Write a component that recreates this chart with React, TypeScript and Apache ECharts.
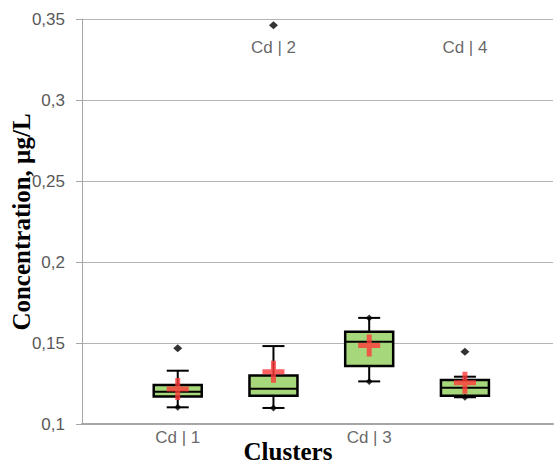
import React, { useEffect, useRef } from "react";
import * as echarts from "echarts";

const categories = ["Cd | 1", "Cd | 2", "Cd | 3", "Cd | 4"];
const positions = [1, 2, 3, 4];
const mins = [0.1103, 0.1099, 0.1263, 0.1165];
const q1s = [0.1169, 0.1175, 0.1358, 0.1175];
const medians = [0.1199, 0.1218, 0.1508, 0.1224];
const q3s = [0.1241, 0.13, 0.157, 0.1272];
const maxs = [0.1329, 0.1481, 0.1655, 0.1292];
const means = [0.1216, 0.1323, 0.1485, 0.1255];
const outliers: [number, number][] = [
  [1, 0.1467],
  [2, 0.3462],
  [4, 0.1446],
];
const whiskerEnds: [number, number][] = [
  [1, 0.1103],
  [2, 0.1099],
  [3, 0.1655],
  [3, 0.1263],
  [4, 0.1165],
];
const yTicks = { min: 0.1, max: 0.35, interval: 0.05 };
const yTitle = "Concentration, µg/L";
const xTitle = "Clusters";

export default function App() {
  const ref = useRef<HTMLDivElement>(null);
  useEffect(() => {
    if (!ref.current) return;
    const chart = echarts.init(ref.current, null, { renderer: "svg" });
    const boxData = positions.map((p, i) => [p, mins[i], q1s[i], medians[i], q3s[i], maxs[i]]);
    const labelData = positions.map((p, i) => [p, i % 2 === 0 ? 0.0914 : 0.3321, categories[i]]);
    const titleStyle = {
      fontFamily: "Liberation Serif",
      fontWeight: "bold",
      fontSize: 25,
      fill: "#000",
      align: "center",
      verticalAlign: "middle",
    };
    const option: any = {
      animation: false,
      grid: { left: 82, right: 2, top: 19, bottom: 39, containLabel: false, outerBoundsMode: "none" },
      xAxis: {
        type: "value",
        min: 0,
        max: 4.92,
        axisLine: { show: true, lineStyle: { color: "#a6a6a6", width: 2 } },
        axisTick: { show: false },
        axisLabel: { show: false },
        splitLine: { show: false },
      },
      yAxis: {
        type: "value",
        min: yTicks.min,
        max: yTicks.max,
        interval: yTicks.interval,
        axisLine: { show: true, lineStyle: { color: "#a6a6a6", width: 1 } },
        axisTick: { show: true, length: 6, lineStyle: { color: "#a6a6a6" } },
        axisLabel: {
          color: "#595959",
          fontSize: 17,
          margin: 17,
          fontFamily: "Liberation Sans",
          formatter: (v: number) => String(+v.toFixed(2)).replace(".", ","),
        },
        splitLine: { show: true, lineStyle: { color: "#b4b4b4", width: 1 } },
      },
      graphic: [
        {
          type: "text",
          x: 288,
          y: 451,
          style: { ...titleStyle, text: xTitle },
        },
        {
          type: "text",
          x: 21,
          y: 222,
          rotation: Math.PI / 2,
          style: { ...titleStyle, text: yTitle },
        },
      ],
      series: [
        {
          type: "custom",
          data: boxData,
          encode: { x: 0, y: [1, 2, 3, 4, 5] },
          renderItem: (params: any, api: any) => {
            const x = api.value(0);
            const pMin = api.coord([x, api.value(1)]);
            const pQ1 = api.coord([x, api.value(2)]);
            const pMed = api.coord([x, api.value(3)]);
            const pQ3 = api.coord([x, api.value(4)]);
            const pMax = api.coord([x, api.value(5)]);
            const cx = pMin[0];
            const hb = 24;
            const hc = 11;
            const ls = { stroke: "#000", lineWidth: 2 };
            return {
              type: "group",
              children: [
                { type: "line", shape: { x1: cx, y1: pMin[1], x2: cx, y2: pQ1[1] }, style: ls },
                { type: "line", shape: { x1: cx, y1: pQ3[1], x2: cx, y2: pMax[1] }, style: ls },
                { type: "line", shape: { x1: cx - hc, y1: pMin[1], x2: cx + hc, y2: pMin[1] }, style: ls },
                { type: "line", shape: { x1: cx - hc, y1: pMax[1], x2: cx + hc, y2: pMax[1] }, style: ls },
                {
                  type: "rect",
                  shape: { x: cx - hb, y: pQ3[1], width: hb * 2, height: pQ1[1] - pQ3[1] },
                  style: { fill: "#a6d87b", stroke: "#000", lineWidth: 2.5 },
                },
                { type: "line", shape: { x1: cx - hb, y1: pMed[1], x2: cx + hb, y2: pMed[1] }, style: ls },
              ],
            };
          },
          z: 2,
        },
        {
          type: "scatter",
          data: whiskerEnds,
          symbol: "diamond",
          symbolSize: [7, 7],
          itemStyle: { color: "#000" },
          z: 3,
        },
        {
          type: "scatter",
          data: outliers,
          symbol: "diamond",
          symbolSize: [9, 8],
          itemStyle: { color: "#000" },
          z: 3,
        },
        {
          type: "scatter",
          data: positions.map((p, i) => [p, means[i]]),
          symbol: "path://M8.5,0h5v8.5h8.5v5h-8.5v8.5h-5v-8.5h-8.5v-5h8.5z",
          symbolSize: [22, 22],
          itemStyle: { color: "#ff3a3a" },
          z: 4,
        },
        {
          type: "scatter",
          data: labelData,
          symbolSize: 0,
          clip: false,
          silent: true,
          label: {
            show: true,
            position: "inside",
            formatter: (p: any) => p.data[2],
            color: "#404040",
            fontSize: 17,
            fontFamily: "Liberation Sans",
          },
          z: 5,
        },
      ],
    };
    chart.setOption(option);
    return () => chart.dispose();
  }, []);
  return (
    <div
      ref={ref}
      style={{ position: "fixed", left: 0, top: 0, width: 555, height: 463, background: "#fff" }}
    />
  );
}
